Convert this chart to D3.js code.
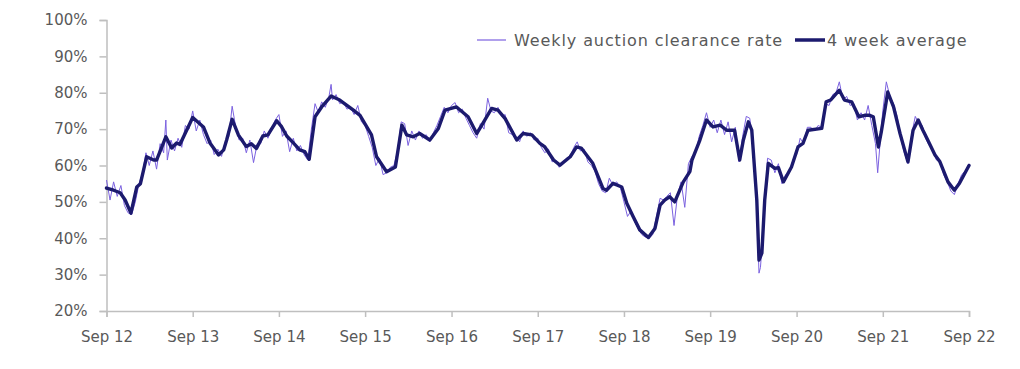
<!DOCTYPE html>
<html><head><meta charset="utf-8">
<script src="https://cdn.jsdelivr.net/npm/d3@7"></script>
<style>
html,body{margin:0;padding:0;background:#fff;}
svg{display:block;font-family:"DejaVu Sans",sans-serif;}
</style></head>
<body><svg id="c" width="1020" height="369"></svg>
<script>
// month offsets from Sep 2012, with values (%)
const avgMonths = [0,1,1.9,2.6,3.4,4.2,4.7,5.6,6.6,7.0,8.3,9.1,9.8,10.25,12.0,13.5,14.4,15.6,16.3,16.7,17.5,18.4,19.5,20.2,20.9,21.8,22.5,23.7,24.4,25.1,26.0,26.9,27.6,28.2,29.0,30.0,31.3,32.5,34.4,35.3,36.9,37.6,39.0,40.2,41.1,41.8,42.7,43.6,45.0,46.2,47.1,48.7,50.3,51.5,52.2,53.6,54.5,55.5,57.1,58.0,59.2,60.3,61.0,62.2,63.1,64.5,65.4,66.1,67.7,69.1,69.6,70.5,71.7,72.4,73.3,74.2,75.4,76.3,77.0,77.7,78.4,79.1,80.3,81.2,81.5,82.6,83.5,84.4,85.4,86.3,87.4,88.1,88.6,89.3,89.8,90.5,90.8,91.2,91.6,92.1,93.0,93.5,94.2,95.3,96.2,96.9,97.6,99.5,100.1,100.7,102.0,102.7,103.7,104.7,105.5,106.2,106.7,107.4,107.8,108.7,109.5,110.4,111.5,112.2,112.9,113.6,114.3,115.3,116.0,117.1,118.0,118.7,120];
const avgValues = [53.8,53.2,52.5,50.5,46.9,54.1,55,62.4,61.5,61.5,67.9,64.8,66.2,65.8,73.2,70.6,66.2,62.9,64.3,67,72.7,68.4,65.2,66,64.7,68.1,68.4,72.3,70.6,68.1,66.2,64.3,63.8,61.7,73.4,76.1,79.1,78,75.2,73.8,68.4,62.4,58.3,59.6,71.1,68.4,67.9,68.8,67,70.2,75.2,76.1,73.4,68.8,71.1,75.7,75.2,72.9,67,68.8,68.4,66.1,65.1,61.5,60.1,62.4,65.1,64.8,60.6,53.7,53.2,55.1,54.1,49.6,45.9,42.3,40.2,42.7,49.1,50.5,51.4,50,55.5,58.3,61.5,67,72.5,70.6,71.1,69.7,69.7,61.5,67,72,69.7,50.5,34,35.9,50.5,60.6,59.2,59.4,55.5,59.6,65.1,66.1,69.7,70.2,77.5,78,80.7,78,77.5,73.4,73.8,73.8,73.4,65.1,69.3,80.2,76.1,68.8,61,69.7,72.5,69.7,67,62.9,61,55.5,53.2,55.1,60];

const weeklyMonths = [0,0.5,1,1.5,2,2.5,3,3.5,4,4.5,5,5.5,6,6.5,7,7.5,8,8.3,8.5,9,9.5,10,10.5,11,11.5,12,12.5,13,13.5,14,14.5,15,15.5,16,16.5,17,17.5,18,18.5,19,19.5,20,20.5,21,21.5,22,22.5,23,23.5,24,24.5,25,25.5,26,26.5,27,27.5,28,28.5,29,29.5,30,30.5,31,31.3,31.5,32,32.5,33,33.5,34,34.5,35,35.5,36,36.5,37,37.5,38,38.5,39,39.5,40,40.5,41,41.5,42,42.5,43,43.5,44,44.5,45,45.5,46,46.5,47,47.5,48,48.5,49,49.5,50,50.5,51,51.5,52,52.5,53,53.5,54,54.5,55,55.5,56,56.5,57,57.5,58,58.5,59,59.5,60,60.5,61,61.5,62,62.5,63,63.5,64,64.5,65,65.5,66,66.5,67,67.5,68,68.5,69,69.5,70,70.5,71,71.5,72,72.5,73,73.5,74,74.5,75,75.5,76,76.5,77,77.5,78,78.5,79,79.5,80,80.5,81,81.5,82,82.5,83,83.5,84,84.5,85,85.5,86,86.5,87,87.5,88,88.5,89,89.5,90,90.5,90.8,91,91.5,92,92.5,93,93.5,94,94.5,95,95.5,96,96.5,97,97.5,98,98.5,99,99.5,100,100.5,101,101.5,102,102.5,103,103.5,104,104.5,105,105.5,106,106.5,107,107.3,107.8,108,108.5,109,109.5,110,110.5,111,111.5,112,112.5,113,113.5,114,114.5,115,115.5,116,116.5,117,117.5,118,118.5,119,119.5,120];
const weeklyValues = [56,50.5,55.5,51.5,54.5,49,47,46.5,50,55,58,63.5,60,64,59,66,63.5,72.5,61.5,67,64,67.5,65,71,70,75,69.5,72.5,68.5,66,67,63,64.5,62.5,66.5,68,76.3,71,67,67.5,63.5,67,60.8,66,66,69.5,67.5,70,72.5,74,68,69.5,63.8,67.5,64,65.5,63,61.5,70,77,74.5,77.5,76,79,82.3,78,79.5,77,77.5,75.5,76,74,76.5,72,71,68,65,60,62,57.5,58,59.5,60,64,72,71.5,65.5,69.5,67,69.5,67.5,68.5,66.5,69,71,73.5,76,74.5,76.5,77.3,74.5,75.5,73,71,69,67.5,71.5,70,78.5,75,74.5,76,73.5,74,69,68.5,68,66.5,69.5,68,69,67,67.5,65,63.5,64.5,61,61.5,59.5,61,62,62.5,65,66.5,64,64.5,61,60,58.5,55,53,52.5,56.5,54.5,55.5,54,50,46,47.5,44.5,42.5,41,40.3,40,41,46,51,50.5,51.5,52.5,43.5,52,55.5,48.5,60.5,62.5,63.5,68,71,74.5,70.5,72.5,69,72.5,68.5,72,66.5,70.5,61,68,73.5,73,67,48,30.4,32,45,62,61.5,58,60.5,55,57.5,58,61.5,63,67.5,66,70.5,70.5,69.5,71,70.5,77,76.5,79.5,80,83,78,79,76.5,77,72.5,74.5,72.5,76.5,71,66,58,70.5,75,83,79,77,73.5,67.5,63.5,60.5,68.5,73.5,71.5,71,67.5,65.5,64.5,61.5,61.5,57.5,55.5,53,52,55,57.5,58.5,60.5];

const yTicks = [20,30,40,50,60,70,80,90,100];
const xTickYears = [2012,2013,2014,2015,2016,2017,2018,2019,2020,2021,2022];
const seriesNames = ["Weekly auction clearance rate","4 week average"];

const start = new Date(2012,8,1);
function monthToDate(m){
  const w = Math.floor(m), f = m - w;
  const a = d3.timeMonth.offset(start, w), b = d3.timeMonth.offset(start, w+1);
  return new Date(+a + f*(b-a));
}
const weekly = weeklyMonths.map((m,i)=>({d:monthToDate(m), v:weeklyValues[i]}));
const avg = avgMonths.map((m,i)=>({d:monthToDate(m), v:avgValues[i]}));

const svg = d3.select("#c");
const x = d3.scaleTime().domain([new Date(2012,8,1), new Date(2022,8,1)]).range([106.5, 969]);
const y = d3.scaleLinear().domain([20,100]).range([311, 20]);

const axisColor = "#bfbfbf", textColor = "#595959";

const gx = svg.append("g").attr("transform","translate(0,311)")
  .call(d3.axisBottom(x).tickValues(xTickYears.map(yr=>new Date(yr,8,1))).tickFormat(d3.timeFormat("%b %y")).tickSize(6).tickPadding(14));
const gy = svg.append("g").attr("transform","translate(106.5,0)")
  .call(d3.axisLeft(y).tickValues(yTicks).tickFormat(d=>d+"%").tickSize(7).tickPadding(12));
[gx,gy].forEach(g=>{
  g.selectAll("path,line").attr("stroke",axisColor).attr("stroke-width",1.5);
  g.selectAll("text").attr("fill",textColor).style("font-size","15px").style("font-family","'DejaVu Sans',sans-serif");
});

const line = d3.line().x(d=>x(d.d)).y(d=>y(d.v));
svg.append("path").datum(weekly).attr("d",line).attr("fill","none").attr("stroke","#7b61e0").attr("stroke-width",1).attr("stroke-linejoin","round");
svg.append("path").datum(avg).attr("d",line).attr("fill","none").attr("stroke","#1c1a6e").attr("stroke-width",3.4).attr("stroke-linejoin","round").attr("stroke-linecap","round");

// legend
const lg = svg.append("g");
lg.append("line").attr("x1",477).attr("x2",506).attr("y1",40).attr("y2",40).attr("stroke","#7b61e0").attr("stroke-width",1.2);
lg.append("text").attr("x",514).attr("y",45.5).text(seriesNames[0]).attr("fill",textColor).style("font-size","16px").style("letter-spacing","0.9px");
lg.append("line").attr("x1",795).attr("x2",825).attr("y1",40).attr("y2",40).attr("stroke","#1c1a6e").attr("stroke-width",3.5);
lg.append("text").attr("x",827).attr("y",45.5).text(seriesNames[1]).attr("fill",textColor).style("font-size","16px").style("letter-spacing","0.9px");
</script></body></html>
